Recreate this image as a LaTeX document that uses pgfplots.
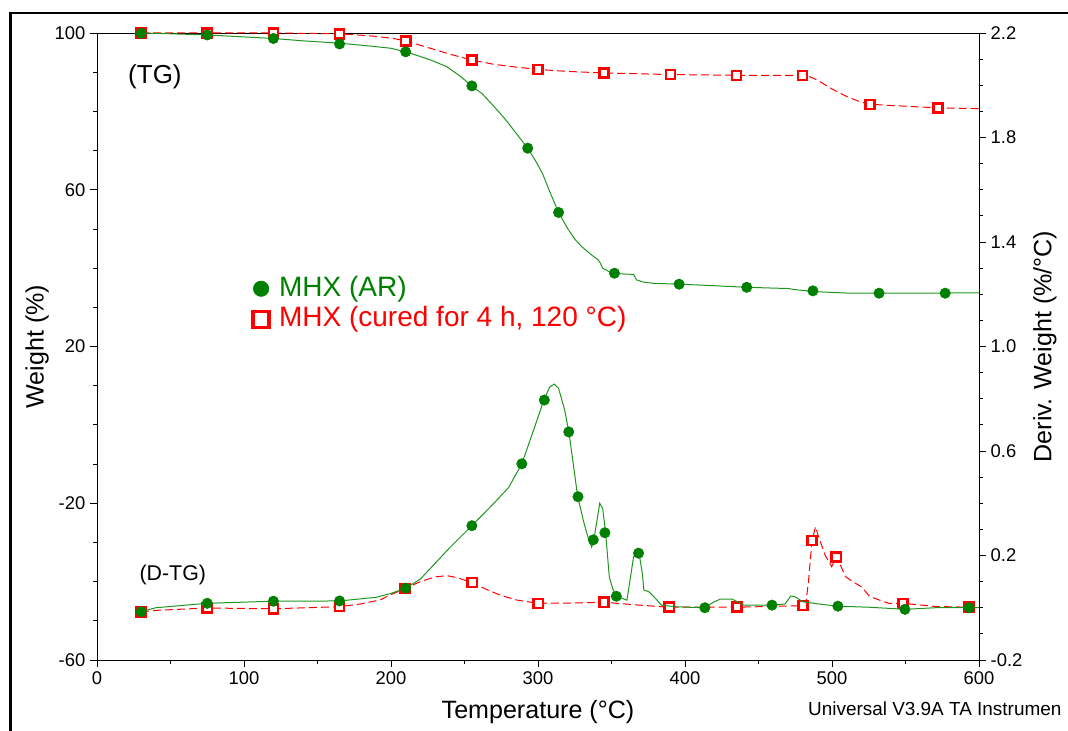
\documentclass[border=0pt]{standalone}
\usepackage{pgfplots}
\pgfplotsset{compat=1.18}
\usepackage{fontspec}
\setmainfont{Liberation Sans}
\definecolor{mkgreen}{RGB}{0,128,0}
\definecolor{lngreen}{RGB}{30,150,30}
\definecolor{tgred}{RGB}{255,0,0}
\begin{document}
\begin{tikzpicture}
\useasboundingbox (0,0) rectangle (801pt,548.25pt);
\clip (0,0) rectangle (801pt,548.25pt);
\draw[line width=1.6pt] (7.9pt,0) -- (7.9pt,538.3pt) -- (801pt,538.3pt);
\begin{axis}[
  at={(72.75pt,53.25pt)}, anchor=south west, scale only axis,
  width=661.5pt, height=470.25pt,
  xmin=0, xmax=600, ymin=-60, ymax=100,
  xtick={0,100,...,600}, minor x tick num=1,
  ytick={-60,-20,20,60,100}, minor y tick num=3,
  xtick pos=bottom, ytick pos=left, tick align=outside,
  major tick length=5.25pt, minor tick length=3pt,
  every tick/.append style={black, line width=0.6pt},
  axis line style={line width=0.6pt},
  tick label style={font=\fontsize{13.8}{16}\selectfont},
  /pgf/number format/assume math mode=true,
  clip mode=individual,
  legend cell align=left,
  legend style={draw=none, fill=none, at={(axis description cs:0.1767,0.617)}, anchor=north west,
    font=\fontsize{21}{25}\selectfont, inner sep=0pt, row sep=0pt, column sep=6.5pt,
    nodes={inner sep=1pt, text height=16pt, text depth=5pt}},
]
\addlegendimage{only marks, mark=*, mark size=5.8pt, color=mkgreen}
\addlegendentry{\textcolor{mkgreen}{MHX (AR)}}
\addlegendimage{only marks, mark=square*, mark size=6pt, mark options={draw=tgred, fill=white, line width=2.8pt}}
\addlegendentry{\textcolor{tgred}{MHX (cured for 4 h, 120 °C)}}
% red TG
\addplot[tgred, line width=0.75pt, dash pattern=on 6pt off 3pt, forget plot] coordinates {
(30,100) (75,100) (120,100) (165,99.8) (185,99.3) (200,98.7) (210,98.0) (225,96.3) (240,94.6) (255,93.1) (270,92.0) (285,91.3) (300,90.7) (320,90.2) (345,89.8) (390,89.4) (435,89.2) (480,89.2) (485,88.8) (490,88.0) (500,85.7) (510,83.8) (520,82.3) (527,81.8) (540,81.5) (572,80.9) (600,80.7)};
\addplot[only marks, mark=square*, mark size=3.4pt, mark options={draw=tgred, fill=white, line width=1.9pt}, forget plot] coordinates {
(30,100) (75,100) (120,100) (165,99.8) (210,98.0) (255,93.1) (300,90.7) (345,89.8) (390,89.4) (435,89.2) (480,89.2) (526,81.8) (572,80.9)};
% green TG
\addplot[lngreen, line width=0.75pt, forget plot] coordinates {
(30,100.0) (40,99.9) (50,99.8) (75,99.5) (100,99.0) (120,98.6) (140,98.0) (165,97.4) (185,96.7) (200,96.1) (210,95.2) (220,94.0) (227,93.1) (238,91.4) (247,89.0) (255,86.5) (262,84.5) (268,82.1) (274,79.6) (279,77.4) (286,74.0) (293,70.6) (298,67.6) (303,64.2) (308,59.5) (314,54.2) (320,50.2) (325,47.4) (330,45.4) (337,43.2) (341,42.1) (342.5,41.2) (344,40.0) (348,39.2) (352,38.6) (358,38.5) (365,38.4) (367,37.0) (372,36.4) (379,36.1) (397,35.9) (420,35.5) (443,35.1) (460,34.9) (470,34.8) (475,34.5) (488,34.0) (500,33.8) (512,33.6) (533,33.6) (560,33.6) (600,33.7)};
\addplot[only marks, mark=*, mark size=3.9pt, color=mkgreen, forget plot] coordinates {
(30,99.9) (75,99.5) (120,98.6) (165,97.2) (210,95.2) (255,86.5) (293,70.6) (314,54.2) (352,38.7) (396,35.9) (442,35.1) (487,34.2) (532,33.6) (577,33.6)};
\node[anchor=base west, inner sep=0pt, font=\fontsize{19.5}{22}\selectfont] at (axis description cs:0.0351,0.9198) {(TG)};
\node[anchor=base west, inner sep=0pt, font=\fontsize{16}{19}\selectfont] at (axis description cs:0.048,0.1265) {(D-TG)};
\node[inner sep=0pt, font=\fontsize{18.8}{22}\selectfont] at (axis description cs:0.5,-0.0829) {Temperature (°C)};
\node[inner sep=0pt, rotate=90, font=\fontsize{18.8}{22}\selectfont] at (axis description cs:-0.0680,0.5) {Weight (\%)};
\node[inner sep=0pt, rotate=90, font=\fontsize{18.8}{22}\selectfont] at (axis description cs:1.0748,0.5) {Deriv. Weight (\%/°C)};
\node[anchor=base west, inner sep=0pt, font=\fontsize{14.2}{17}\selectfont] at (axis description cs:0.806,-0.0893) {Universal V3.9A TA Instrumen};
\end{axis}
\begin{axis}[
  at={(72.75pt,53.25pt)}, anchor=south west, scale only axis,
  width=661.5pt, height=470.25pt,
  xmin=0, xmax=600, ymin=-0.2, ymax=2.2,
  axis x line=none, axis y line*=right,
  ytick={-0.2,0.2,0.6,1.0,1.4,1.8,2.2}, minor y tick num=3,
  tick align=outside,
  major tick length=5.25pt, minor tick length=3pt,
  every tick/.append style={black, line width=0.6pt},
  axis line style={line width=0.6pt},
  tick label style={font=\fontsize{13.8}{16}\selectfont},
  y tick label style={/pgf/number format/.cd, fixed, fixed zerofill, precision=1, assume math mode=true, /tikz/.cd},
  clip mode=individual,
]
% red DTG
\addplot[tgred, line width=0.75pt, dash pattern=on 6pt off 3pt] coordinates {
(30,-0.016) (40,-0.01) (75,-0.001) (120,-0.004) (165,0.004) (180,0.015) (192.5,0.030) (200,0.05) (209.5,0.074) (220,0.10) (230,0.118) (238,0.123) (245,0.115) (255.3,0.096) (265,0.07) (274,0.049) (285,0.03) (300,0.017) (322,0.018) (345,0.021) (369,0.010) (389,0.002) (435,0.002) (480,0.008) (482.3,0.023) (484,0.10) (485.5,0.20) (486.5,0.258) (488.8,0.310) (490.5,0.278) (495.3,0.202) (499.8,0.157) (502.9,0.195) (506,0.16) (509.2,0.119) (514,0.10) (519.8,0.081) (525.7,0.043) (532,0.03) (538.5,0.017) (548.4,0.017) (570,0.005) (593,0.002) (600,0.0)};
\addplot[only marks, mark=square*, mark size=3.4pt, mark options={draw=tgred, fill=white, line width=1.9pt}] coordinates {
(30,-0.016) (75,-0.001) (120,-0.004) (165,0.004) (209.5,0.074) (255.3,0.096) (300.2,0.017) (344.9,0.021) (389.3,0.002) (435.3,0.002) (480.4,0.008) (486.5,0.258) (502.9,0.195) (548.4,0.017) (593.2,0.002)};
% green DTG
\addplot[lngreen, line width=0.75pt] coordinates {
(30,-0.015) (40,0.0) (75,0.017) (120,0.025) (165,0.026) (190,0.04) (200,0.055) (210,0.075) (220,0.11) (230,0.17) (240,0.23) (255,0.314) (270,0.40) (280,0.46) (289,0.551) (297,0.68) (304,0.795) (308,0.845) (311,0.856) (314,0.84) (318,0.76) (321,0.673) (324,0.55) (327,0.425) (331,0.33) (334,0.27) (336.5,0.232) (338,0.26) (340,0.33) (342,0.40) (344,0.38) (346,0.287) (348.5,0.118) (351,0.07) (353.5,0.044) (360.5,0.029) (363,0.12) (365,0.195) (367.5,0.22) (369,0.20) (371,0.13) (372,0.068) (375.5,0.061) (380,0.035) (384,0.01) (393,0.004) (413,0.0) (419,0.02) (424,0.033) (432,0.033) (440,0.01) (459,0.01) (468,0.014) (472,0.045) (475,0.042) (480,0.023) (490,0.015) (504,0.006) (525,0.002) (550,-0.006) (570,0.0) (600,0.0)};
\addplot[only marks, mark=*, mark size=3.9pt, color=mkgreen] coordinates {
(30,-0.015) (75,0.017) (120,0.025) (165,0.026) (210,0.075) (255,0.314) (289,0.551) (304.3,0.795) (320.9,0.673) (327.2,0.425) (337.6,0.26) (345.5,0.287) (353.3,0.044) (368.4,0.209) (413.5,0.0) (459.2,0.01) (504,0.006) (549.6,-0.006) (593.2,0.0)};
\end{axis}
\end{tikzpicture}
\end{document}
